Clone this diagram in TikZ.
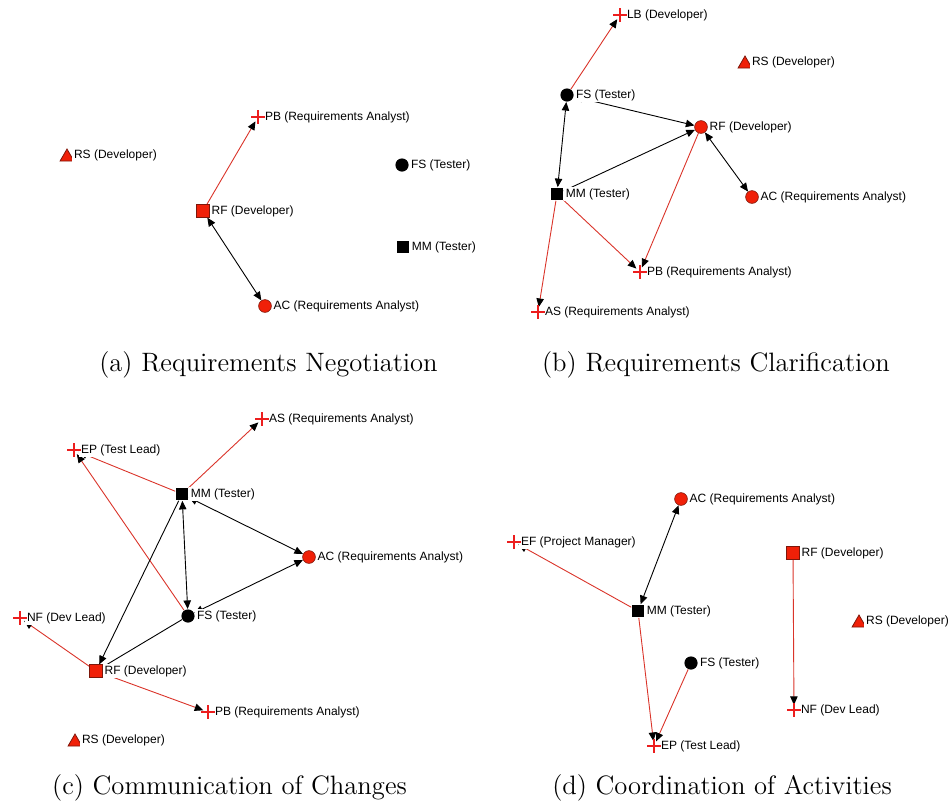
\documentclass[tikz,border=0pt]{standalone}
\usepackage{fontspec}
\newfontfamily\netfont{Liberation Sans}
\usetikzlibrary{arrows.meta,shapes.geometric,backgrounds}
\definecolor{nodered}{RGB}{240,32,8}
\definecolor{rimred}{RGB}{125,22,10}
\definecolor{linkred}{RGB}{218,52,42}
\definecolor{plusred}{RGB}{236,30,30}

\begin{document}
\begin{tikzpicture}[x=0.5pt,y=-0.5pt,
  >={Triangle[length=4.3pt,width=3.7pt,color=black]},
  lab/.style={font=\fontsize{6}{7}\selectfont\netfont, fill=white, inner sep=0.8pt},
  marker/.style={inner sep=0, label distance=0.3pt},
  rsq/.style={marker, rectangle, minimum size=6.2pt, fill=nodered, draw=rimred, line width=0.4pt},
  bsq/.style={marker, rectangle, minimum size=6.4pt, fill=black},
  rdot/.style={marker, circle, minimum size=6.4pt, fill=nodered, draw=rimred, line width=0.3pt},
  bdot/.style={marker, circle, minimum size=6.6pt, fill=black},
  rtri/.style={marker, regular polygon, regular polygon sides=3, minimum size=8pt,
    fill=nodered, draw=rimred, line width=0.4pt, label distance=1.2pt},
  plusn/.style={marker, circle, minimum size=4.6pt, label distance=1.1pt},
  plusline/.style={draw=plusred, line width=0.65pt},
  bl/.style={draw=black, line width=0.45pt},
  rl/.style={draw=linkred, line width=0.45pt},
  subcap/.style={font=\fontsize{13.3}{15}\selectfont, inner sep=0, anchor=base},
]
\useasboundingbox (0,0) rectangle (949,804);

% ---------- (a) Requirements Negotiation ----------
\node[plusn, label={[lab]right:PB (Requirements Analyst)}] (a_pb) at (258,117) {};
\node[rtri, label={[lab,yshift=0.8pt]right:RS (Developer)}] (a_rs) at (67,157) {};
\node[bdot, label={[lab]right:FS (Tester)}] (a_fs) at (402,165) {};
\node[rsq, label={[lab]right:RF (Developer)}] (a_rf) at (203,211) {};
\node[bsq, label={[lab]right:MM (Tester)}] (a_mm) at (403,247) {};
\node[rdot, label={[lab]right:AC (Requirements Analyst)}] (a_ac) at (265,306) {};
\node[subcap] (cap_a) at (268.5,371) {(a) Requirements Negotiation};

% ---------- (b) Requirements Clarification ----------
\node[plusn, label={[lab]right:LB (Developer)}] (b_lb) at (620,15) {};
\node[rtri, label={[lab,yshift=0.8pt]right:RS (Developer)}] (b_rs) at (745,64) {};
\node[bdot, label={[lab]right:FS (Tester)}] (b_fs) at (567,95) {};
\node[rdot, label={[lab]right:RF (Developer)}] (b_rf) at (701,127) {};
\node[bsq, label={[lab]right:MM (Tester)}] (b_mm) at (557,194) {};
\node[rdot, label={[lab]right:AC (Requirements Analyst)}] (b_ac) at (752,197) {};
\node[plusn, label={[lab]right:PB (Requirements Analyst)}] (b_pb) at (640,272) {};
\node[plusn, label={[lab]right:AS (Requirements Analyst)}] (b_as) at (538,312) {};
\node[subcap] (cap_b) at (716,371) {(b) Requirements Clarification};

% ---------- (c) Communication of Changes ----------
\node[plusn, label={[lab]right:AS (Requirements Analyst)}] (c_as) at (262,419) {};
\node[plusn, label={[lab]right:EP (Test Lead)}] (c_ep) at (74,450) {};
\node[bsq, label={[lab]right:MM (Tester)}] (c_mm) at (182,494) {};
\node[rdot, label={[lab]right:AC (Requirements Analyst)}] (c_ac) at (309,557) {};
\node[plusn, label={[lab]right:NF (Dev Lead)}] (c_nf) at (20,618) {};
\node[bdot, label={[lab]right:FS (Tester)}] (c_fs) at (188,616) {};
\node[rsq, label={[lab]right:RF (Developer)}] (c_rf) at (96,671) {};
\node[plusn, label={[lab]right:PB (Requirements Analyst)}] (c_pb) at (208,712) {};
\node[rtri, label={[lab,yshift=0.8pt]right:RS (Developer)}] (c_rs) at (75,742) {};
\node[subcap] (cap_c) at (229.5,794) {(c) Communication of Changes};

% ---------- (d) Coordination of Activities ----------
\node[rdot, label={[lab]right:AC (Requirements Analyst)}] (d_ac) at (681,499) {};
\node[plusn, label={[lab]right:EF (Project Manager)}] (d_ef) at (514,542) {};
\node[rsq, label={[lab]right:RF (Developer)}] (d_rf) at (793,553) {};
\node[bsq, label={[lab]right:MM (Tester)}] (d_mm) at (638,611) {};
\node[rtri, label={[lab,yshift=0.8pt]right:RS (Developer)}] (d_rs) at (859,623) {};
\node[bdot, label={[lab]right:FS (Tester)}] (d_fs) at (691,663) {};
\node[plusn, label={[lab]right:NF (Dev Lead)}] (d_nf) at (794,710) {};
\node[plusn, label={[lab]right:EP (Test Lead)}] (d_ep) at (654,746) {};
\node[subcap] (cap_d) at (722,794) {(d) Coordination of Activities};

% plus-shaped markers
\foreach \n in {a_pb,b_lb,b_pb,b_as,c_as,c_ep,c_nf,c_pb,d_ef,d_nf,d_ep}
  \draw[plusline] ([xshift=-3.3pt]\n.center) -- ([xshift=3.3pt]\n.center)
                  ([yshift=-3.3pt]\n.center) -- ([yshift=3.3pt]\n.center);

% connectors sit beneath the markers and their label boxes
\begin{scope}[on background layer]
  % (a)
  \draw[rl,->] (a_rf) -- (a_pb);
  \draw[bl,<->] (a_rf) -- (a_ac);
  % (b)
  \draw[rl,->] (b_fs) -- (b_lb);
  \draw[bl,<->] (b_fs) -- (b_rf);
  \draw[bl,->] (b_mm) -- (b_rf);
  \draw[bl,<->] (b_rf) -- (b_ac);
  \draw[bl,<->] (b_fs) -- (b_mm);
  \draw[rl,->] (b_mm) -- (b_pb);
  \draw[rl,->] (b_rf) -- (b_pb);
  \draw[rl,->] (b_mm) -- (b_as);
  % (c)
  \draw[rl,->] (c_mm) -- (c_as);
  \draw[rl,->] (c_mm) -- (c_ep);
  \draw[rl,->] (c_fs) -- (c_ep);
  \draw[bl,<->] (c_mm) -- (c_ac);
  \draw[bl,<->] (c_mm) -- (c_fs);
  \draw[bl,->] (c_mm) -- (c_rf);
  \draw[bl,<->] (c_fs) -- (c_ac);
  \draw[bl] (c_rf) -- (c_fs);
  \draw[rl,->] (c_rf) -- (c_nf);
  \draw[rl,->] (c_rf) -- (c_pb);
  % (d)
  \draw[bl,<->] (d_mm) -- (d_ac);
  \draw[rl,->] (d_mm) -- (d_ef);
  \draw[rl,->] (d_mm) -- (d_ep);
  \draw[rl,->] (d_fs) -- (d_ep);
  \draw[rl,->] (d_rf) -- (d_nf);
\end{scope}
\end{tikzpicture}
\end{document}
